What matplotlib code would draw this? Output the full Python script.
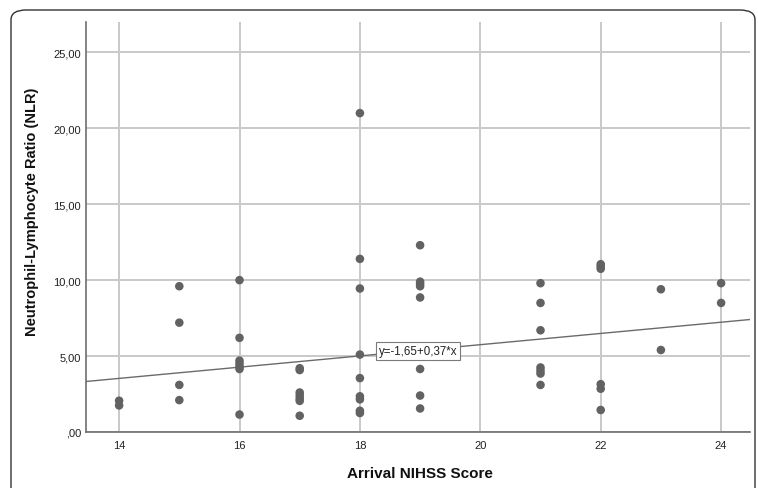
import matplotlib
matplotlib.use("Agg")
import matplotlib.pyplot as plt
from matplotlib.patches import FancyBboxPatch
from matplotlib.ticker import FuncFormatter
import numpy as np

plt.rcParams['font.family'] = ['Liberation Sans', 'DejaVu Sans']

# Data
nihss = [14, 14,
         15, 15, 15, 15,
         16, 16, 16, 16, 16, 16, 16,
         17, 17, 17, 17, 17, 17, 17,
         18, 18, 18, 18, 18, 18, 18, 18, 18,
         19, 19, 19, 19, 19, 19, 19, 19,
         21, 21, 21, 21, 21, 21, 21,
         22, 22, 22, 22, 22, 22,
         23, 23,
         24, 24]
nlr = [2.06, 1.75,
       9.6, 7.2, 3.1, 2.1,
       10.0, 6.2, 4.7, 4.5, 4.3, 4.15, 1.15,
       4.2, 4.08, 2.6, 2.4, 2.2, 2.05, 1.07,
       21.0, 11.4, 9.45, 5.1, 3.55, 2.35, 2.15, 1.4, 1.25,
       12.3, 9.9, 9.75, 9.6, 8.86, 4.15, 2.4, 1.55,
       9.8, 8.5, 6.7, 4.25, 4.05, 3.85, 3.1,
       11.05, 10.9, 10.75, 3.15, 2.85, 1.45,
       9.4, 5.4,
       9.8, 8.5]
intercept = -1.65
slope = 0.37
fit_label = "y=-1,65+0,37*x"
xticks = [14, 16, 18, 20, 22, 24]
yticks = [0, 5, 10, 15, 20, 25]
xlabel = "Arrival NIHSS Score"
ylabel = "Neutrophil-Lymphocyte Ratio (NLR)"

W, H = 758, 489
fig = plt.figure(figsize=(W / 100, H / 100), dpi=100)
ax = fig.add_axes([86 / W, 1 - 433 / H, (750 - 86) / W, (433 - 23) / H])

xmin, xmax = 13.45, 24.48
ax.set_xlim(xmin, xmax)
ax.set_ylim(0, 27)

ax.set_xticks(xticks)
ax.set_yticks(yticks)
ax.grid(True, color='#c9c9c9', linewidth=1.4, zorder=0)
ax.set_axisbelow(True)

for s in ['top', 'right']:
    ax.spines[s].set_visible(False)
for s in ['left', 'bottom']:
    ax.spines[s].set_color('#6e6e6e')
    ax.spines[s].set_linewidth(1.2)

def yfmt(v, pos):
    s = f"{v:.2f}".replace('.', ',')
    if s.startswith('0,'):
        s = s[1:]
    return s

ax.yaxis.set_major_formatter(FuncFormatter(yfmt))
ax.tick_params(axis='both', length=0, labelsize=8, colors='#222222')
ax.tick_params(axis='x', pad=5.5)
ax.tick_params(axis='y', pad=3.5)

ax.scatter(nihss, nlr, s=38, color='#626262', edgecolors='none', zorder=3)

xs = np.array([xmin, xmax])
ax.plot(xs, intercept + slope * xs, color='#6a6a6a', linewidth=1.0, zorder=2)

ax.text(18.97, 5.33, fit_label, fontsize=8.3, color='#222222', ha='center', va='center',
        zorder=4,
        bbox=dict(boxstyle='square,pad=0.25', facecolor='white', edgecolor='#7a7a7a', linewidth=0.8))

fig.text(420 / W, 1 - 474 / H, xlabel, fontsize=11, fontweight='bold', color='#111111',
         ha='center', va='center')
fig.text(32 / W, 1 - 212 / H, ylabel, fontsize=10.5, fontweight='bold', color='#111111',
         ha='center', va='center', rotation=90)

border = FancyBboxPatch((11 / W, -0.05), (755 - 11) / W, (H - 11) / H + 0.05,
                        boxstyle='round,pad=0,rounding_size=0.02',
                        transform=fig.transFigure, facecolor='none',
                        edgecolor='#333333', linewidth=1.0, clip_on=False)
fig.patches.append(border)

fig.savefig('out.png', dpi=100)
